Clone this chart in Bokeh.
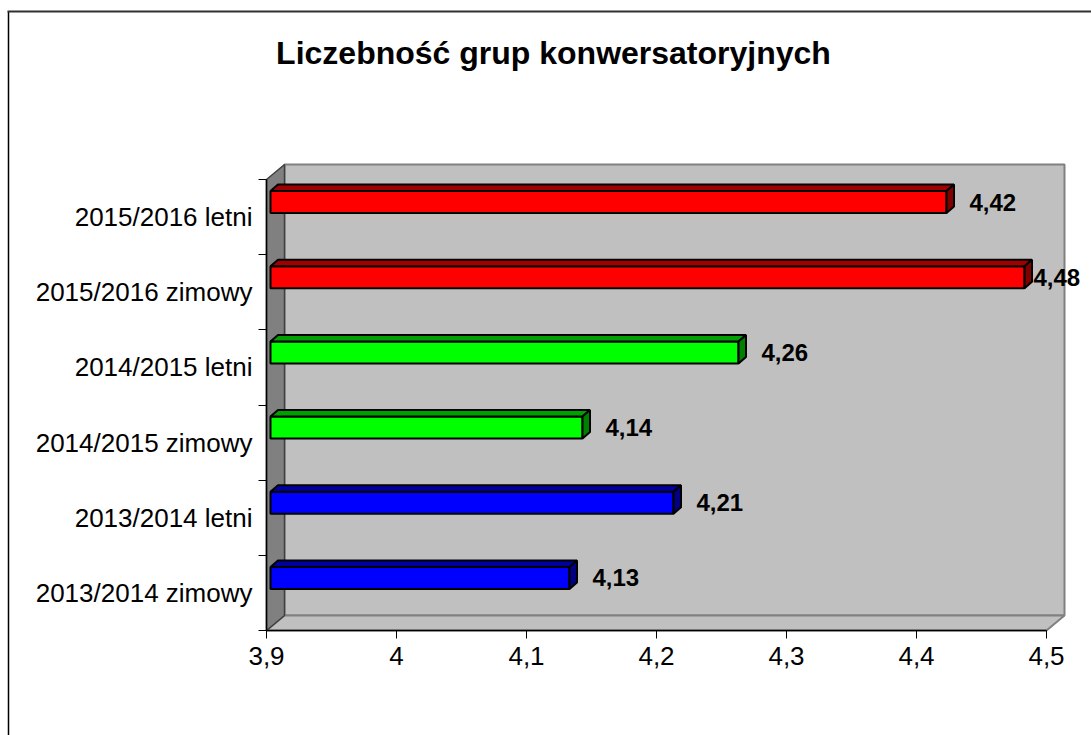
from bokeh.plotting import figure
from bokeh.models import (Range1d, FixedTicker, CustomJSTickFormatter, ColumnDataSource,
                          LabelSet, Label)
from bokeh.core.properties import value
from bokeh.embed import file_html
from bokeh.resources import INLINE

# ---------------- data ----------------
title_text = "Liczebność grup konwersatoryjnych"
categories = ["2013/2014 zimowy", "2013/2014 letni", "2014/2015 zimowy",
              "2014/2015 letni", "2015/2016 zimowy", "2015/2016 letni"]
values = [4.13, 4.21, 4.14, 4.26, 4.48, 4.42]
front_colors = ["#0000FF", "#0000FF", "#00FF00", "#00FF00", "#FF0000", "#FF0000"]
top_colors = ["#0000A0", "#0000A0", "#00A000", "#00A000", "#A00000", "#A00000"]
side_colors = ["#000080", "#000080", "#008000", "#008000", "#800000", "#800000"]
x_ticks = [3.9, 4.0, 4.1, 4.2, 4.3, 4.4, 4.5]

# ---------------- layout (pixels, relative to the canvas) ----------------
W, H = 1091, 735
FRAME_LEFT, FRAME_BOTTOM = 266, 630     # position of the value-axis origin
x0, x1 = x_ticks[0], x_ticks[-1]
AXIS_PX = 780            # pixel length of the value axis
CAT_PX = 451             # pixel height of the category axis
n = len(categories)
upx = (x1 - x0) / AXIS_PX
vpy = n / CAT_PX
WALL_DX, WALL_DY = 18, 15
BAR_SHIFT_X, BAR_SHIFT_Y = 4, 15
BAR_H = 22
BAR_DX, BAR_DY = 7.5, 6.5
LABEL_GAP = 23
LABEL_RIGHT_LIMIT = 1082
LABEL_W = 49


def page_x(px):
    return x0 + (px - FRAME_LEFT) * upx


def page_y(py):
    return (FRAME_BOTTOM - py) * vpy


x_range = Range1d(page_x(0), page_x(W))
y_range = Range1d(page_y(H), page_y(0))

p = figure(width=W, height=H, x_range=x_range, y_range=y_range,
           output_backend="svg", toolbar_location=None, title=None,
           min_border=0)
p.outline_line_color = None
p.background_fill_color = "white"
p.border_fill_color = "white"
p.xgrid.visible = False
p.ygrid.visible = False

# chart border (only left and top edges are inside the picture)
p.line([page_x(8), page_x(8)], [page_y(H + 50), page_y(11)], line_color="black", line_width=1.5)
p.line([page_x(7), page_x(W + 50)], [page_y(11), page_y(11)], line_color="#303030", line_width=2)

wdx, wdy = WALL_DX * upx, WALL_DY * vpy
# back wall
p.quad(left=x0 + wdx, right=x1 + wdx, bottom=wdy, top=n + wdy,
       fill_color="#C0C0C0", line_color="#808080", line_width=2)
# floor
p.patch([x0, x0 + wdx, x1 + wdx, x1], [0, wdy, wdy, 0],
        fill_color="#C0C0C0", line_color="#808080", line_width=2)
# left wall
p.patch([x0, x0 + wdx, x0 + wdx, x0], [n, n + wdy, wdy, 0],
        fill_color="#808080", line_color="#404040", line_width=1.5)

# bars
bx, by = BAR_SHIFT_X * upx, BAR_SHIFT_Y * vpy
bh = BAR_H * vpy / 2
ddx, ddy = BAR_DX * upx, BAR_DY * vpy
lefts, rights, bottoms, tops = [], [], [], []
top_xs, top_ys, side_xs, side_ys = [], [], [], []
for i, v in enumerate(values):
    yc = i + 0.5 + by
    l, r, b, t = x0 + bx, v + bx, yc - bh, yc + bh
    lefts.append(l); rights.append(r); bottoms.append(b); tops.append(t)
    top_xs.append([l, l + ddx, r + ddx, r]); top_ys.append([t, t + ddy, t + ddy, t])
    side_xs.append([r, r + ddx, r + ddx, r]); side_ys.append([t, t + ddy, b + ddy, b])

p.quad(left=lefts, right=rights, bottom=bottoms, top=tops,
       fill_color=front_colors, line_color="black", line_width=2)
p.patches(top_xs, top_ys, fill_color=top_colors, line_color="black", line_width=2)
p.patches(side_xs, side_ys, fill_color=side_colors, line_color="black", line_width=2)

# data labels
max_lx = page_x(LABEL_RIGHT_LIMIT - LABEL_W)
lab_src = ColumnDataSource(dict(
    x=[min(v + bx + LABEL_GAP * upx, max_lx) for v in values],
    y=[i + 0.5 + by for i in range(n)],
    t=[f"{v:.2f}".replace(".", ",") for v in values]))
p.add_layout(LabelSet(x="x", y="y", text="t", source=lab_src,
                      text_font=value("Liberation Sans"), text_font_size="24px",
                      text_font_style="bold", text_baseline="middle", text_align="left",
                      text_color="black"))

# axes (placed at the origin of the plot area)
xa = p.xaxis[0]
xa.fixed_location = 0
xa.ticker = FixedTicker(ticks=x_ticks, minor_ticks=[])
xa.formatter = CustomJSTickFormatter(code="return (Math.round(tick*10)/10).toString().replace('.', ',');")
xa.bounds = (x0, x1)
xa.axis_line_color = "black"
xa.axis_line_width = 1.5
xa.major_tick_in = 0
xa.major_tick_out = 8
xa.major_tick_line_color = "black"
xa.minor_tick_line_color = None
xa.major_label_standoff = 8
xa.major_label_text_font = "Liberation Sans"
xa.major_label_text_font_size = "26px"
xa.major_label_text_color = "black"

ya = p.yaxis[0]
ya.fixed_location = x0
ya.ticker = FixedTicker(ticks=[i + 0.5 for i in range(n)], minor_ticks=list(range(n + 1)))
ya.formatter = CustomJSTickFormatter(args=dict(cats=categories),
                                     code="return cats[Math.floor(tick)];")
ya.bounds = (0, n)
ya.axis_line_color = "black"
ya.axis_line_width = 1.5
ya.major_tick_in = 0
ya.major_tick_out = 0
ya.minor_tick_in = 0
ya.minor_tick_out = 8
ya.minor_tick_line_color = "black"
ya.major_label_standoff = 6
ya.major_label_text_font = "Liberation Sans"
ya.major_label_text_font_size = "26px"
ya.major_label_text_color = "black"

# title
p.add_layout(Label(x=page_x(553), y=page_y(52), text=title_text, text_align="center",
                   text_baseline="middle", text_font="Liberation Sans",
                   text_font_size="32px", text_font_style="bold", text_color="black"))

open("out.html", "w").write(file_html(p, INLINE))
